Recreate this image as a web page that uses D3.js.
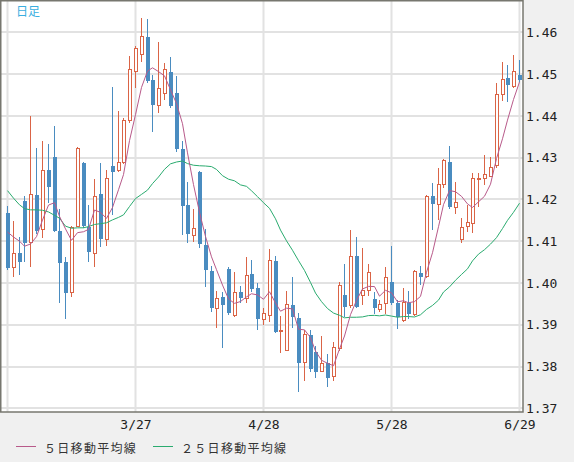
<!DOCTYPE html>
<html>
<head>
<meta charset="utf-8">
<script src="https://cdn.jsdelivr.net/npm/d3@7"></script>
<style>
  body { margin: 0; background: #f0f0f0; }
  svg { display: block; }
  .axis text { font-family: "DejaVu Sans Mono", monospace; font-size: 13px; fill: #222; }
  .lg { font-family: "Noto Sans CJK JP", sans-serif; font-size: 12px; fill: #333; letter-spacing: 1.3px; }
</style>
</head>
<body>
<svg width="574" height="462"></svg>
<script>
// daily candles, oldest first
const open = [
  1.4168, 1.4038, 1.4072, 1.4196, 1.4097, 1.4211, 1.4127, 1.4270, 1.4302, 1.4125,
  1.4051, 1.3978, 1.4136, 1.4287, 1.4133, 1.4071, 1.4213, 1.4103, 1.4280, 1.4270,
  1.4288, 1.4390, 1.4507, 1.4547, 1.4588, 1.4486, 1.4424, 1.4454, 1.4505, 1.4455,
  1.4321, 1.4187, 1.4114, 1.4266, 1.4091, 1.4029, 1.3939, 1.3966, 1.4033, 1.3922,
  1.3978, 1.3963, 1.4022, 1.3987, 1.3913, 1.3922, 1.4053, 1.3886, 1.3838, 1.3947,
  1.3917, 1.3810, 1.3876, 1.3835, 1.3789, 1.3809, 1.3776, 1.3844, 1.3971, 1.3947,
  1.4064, 1.3970, 1.3982, 1.3962, 1.3937, 1.3950, 1.4002, 1.3953, 1.3911, 1.3953,
  1.3925, 1.4025, 1.4015, 1.4208, 1.4188, 1.4235, 1.4290, 1.4181, 1.4105, 1.4136,
  1.4143, 1.4247, 1.4250, 1.4256, 1.4280, 1.4452, 1.4490, 1.4470, 1.4498];
const high = [
  1.4184, 1.4148, 1.4111, 1.4208, 1.4400, 1.4323, 1.4340, 1.4333, 1.4376, 1.4176,
  1.4062, 1.4136, 1.4326, 1.4290, 1.4187, 1.4250, 1.4288, 1.4270, 1.4468, 1.4412,
  1.4395, 1.4543, 1.4567, 1.4634, 1.4632, 1.4498, 1.4577, 1.4527, 1.4541, 1.4495,
  1.4340, 1.4241, 1.4176, 1.4268, 1.4129, 1.4041, 1.3981, 1.3978, 1.4039, 1.4026,
  1.3993, 1.4063, 1.4055, 1.4000, 1.3939, 1.4082, 1.4065, 1.3921, 1.3981, 1.4015,
  1.3927, 1.3887, 1.3887, 1.3850, 1.3873, 1.3830, 1.3859, 1.4002, 1.4045, 1.4127,
  1.4109, 1.4084, 1.4045, 1.3978, 1.3959, 1.4039, 1.4088, 1.3959, 1.3987, 1.3981,
  1.4031, 1.4041, 1.4211, 1.4239, 1.4274, 1.4297, 1.4329, 1.4241, 1.4155, 1.4187,
  1.4264, 1.4264, 1.4306, 1.4301, 1.4478, 1.4530, 1.4522, 1.4546, 1.4534];
const low = [
  1.4031, 1.4014, 1.4019, 1.4051, 1.4039, 1.4117, 1.4107, 1.4191, 1.4123, 1.3951,
  1.3913, 1.3966, 1.4133, 1.4132, 1.4051, 1.4039, 1.4085, 1.4088, 1.4163, 1.4266,
  1.4285, 1.4383, 1.4466, 1.4529, 1.4479, 1.4362, 1.4408, 1.4438, 1.4418, 1.4314,
  1.4115, 1.4095, 1.4097, 1.4083, 1.3990, 1.3931, 1.3893, 1.3845, 1.3923, 1.3918,
  1.3953, 1.3953, 1.3978, 1.3887, 1.3899, 1.3907, 1.3881, 1.3833, 1.3836, 1.3892,
  1.3740, 1.3766, 1.3788, 1.3773, 1.3787, 1.3752, 1.3766, 1.3837, 1.3919, 1.3941,
  1.3940, 1.3947, 1.3969, 1.3925, 1.3931, 1.3926, 1.3947, 1.3889, 1.3906, 1.3913,
  1.3921, 1.3995, 1.4011, 1.4127, 1.4151, 1.4227, 1.4176, 1.4165, 1.4095, 1.4123,
  1.4120, 1.4183, 1.4235, 1.4254, 1.4275, 1.4436, 1.4434, 1.4467, 1.4482];
const close = [
  1.4037, 1.4071, 1.4051, 1.4096, 1.4211, 1.4125, 1.4270, 1.4230, 1.4125, 1.4047,
  1.3975, 1.4133, 1.4322, 1.4136, 1.4075, 1.4207, 1.4105, 1.4250, 1.4266, 1.4288,
  1.4388, 1.4511, 1.4562, 1.4591, 1.4484, 1.4427, 1.4466, 1.4511, 1.4424, 1.4320,
  1.4185, 1.4117, 1.4131, 1.4093, 1.4031, 1.3941, 1.3963, 1.3947, 1.3927, 1.3978,
  1.3963, 1.4018, 1.3985, 1.3913, 1.3926, 1.4053, 1.3883, 1.3887, 1.3949, 1.3918,
  1.3809, 1.3876, 1.3794, 1.3788, 1.3808, 1.3773, 1.3846, 1.3995, 1.3943, 1.4064,
  1.3943, 1.3983, 1.4026, 1.3941, 1.3949, 1.4013, 1.3953, 1.3919, 1.3953, 1.3925,
  1.4027, 1.4015, 1.4207, 1.4188, 1.4236, 1.4292, 1.4183, 1.4193, 1.4133, 1.4145,
  1.4250, 1.4250, 1.4260, 1.4277, 1.4452, 1.4487, 1.4473, 1.4507, 1.4486];

// averages at the left edge depend on days before the window
const ma5Head = [1.4122, 1.4110, 1.4100, 1.4088];
const ma25Head = [
  1.4221, 1.4203, 1.4187, 1.4178, 1.4175, 1.4175, 1.4174, 1.4170, 1.4162, 1.4155,
  1.4136, 1.4131, 1.4132, 1.4132, 1.4135, 1.4140, 1.4142, 1.4144, 1.4151, 1.4157,
  1.4163, 1.4183, 1.4202, 1.4212];

const dateIdx = [0, 22, 44, 66, 88];
const dates = ["", "3/27", "4/28", "5/28", "6/29"];
const yTicks = [1.37, 1.38, 1.39, 1.40, 1.41, 1.42, 1.43, 1.44, 1.45, 1.46];
const legend = ["５日移動平均線", "２５日移動平均線"];

const svg = d3.select("svg");
const L = 1, T = 1, R = 523, B = 412;

const x = d3.scaleLinear().domain([0, close.length - 1]).range([7.5, 519.5]);
const y = d3.scaleLinear().domain([1.37, 1.46]).range([408.3, 32.3]);
const px = i => Math.floor(x(i)) + 0.5;

function movingAvg(n, head) {
  return close.map((c, i) => i < n - 1 ? head[i] : d3.mean(close.slice(i - n + 1, i + 1)));
}
const ma5 = movingAvg(5, ma5Head);
const ma25 = movingAvg(25, ma25Head);

svg.append("rect").attr("x", L).attr("y", T).attr("width", R - L).attr("height", B - T)
  .attr("fill", "#fff");

svg.append("defs").append("clipPath").attr("id", "clip")
  .append("rect").attr("x", L).attr("y", T).attr("width", R - L).attr("height", B - T);

const plot = svg.append("g").attr("clip-path", "url(#clip)");

// grid
plot.selectAll("line.hg").data(yTicks).enter().append("line")
  .attr("x1", L).attr("x2", R)
  .attr("y1", d => Math.round(y(d))).attr("y2", d => Math.round(y(d)))
  .attr("stroke", "#e2e2e2").attr("stroke-width", 2);
plot.selectAll("line.vg").data(dateIdx).enter().append("line")
  .attr("x1", d => px(d)).attr("x2", d => px(d))
  .attr("y1", T).attr("y2", B)
  .attr("stroke", "#e2e2e2").attr("stroke-width", 2);

// candles
const red = "#da6446", blue = "#4a8cc0";
const idx = d3.range(close.length);
const c = plot.selectAll("g.c").data(idx).enter().append("g")
  .attr("shape-rendering", "crispEdges");
c.append("line")
  .attr("x1", px).attr("x2", px)
  .attr("y1", i => y(high[i])).attr("y2", i => y(low[i]))
  .attr("stroke", i => close[i] >= open[i] ? red : blue);
c.append("rect")
  .attr("x", i => close[i] >= open[i] ? px(i) - 1.5 : px(i) - 2)
  .attr("width", i => close[i] >= open[i] ? 3 : 4)
  .attr("y", i => y(Math.max(open[i], close[i])))
  .attr("height", i => Math.max(1, Math.abs(y(open[i]) - y(close[i]))))
  .attr("fill", i => close[i] >= open[i] ? "#fff" : blue)
  .attr("stroke", i => close[i] >= open[i] ? red : "none");

// moving averages
const line = d3.line().x((d, i) => px(i)).y(d => y(d));
plot.append("path").datum(ma25).attr("d", line)
  .attr("fill", "none").attr("stroke", "#2aab6f").attr("stroke-width", 1);
plot.append("path").datum(ma5).attr("d", line)
  .attr("fill", "none").attr("stroke", "#b85a8a").attr("stroke-width", 1);

svg.append("text").attr("x", 16).attr("y", 16)
  .style("font-family", "'Noto Sans CJK JP', sans-serif").style("font-size", "12px")
  .attr("fill", "#3aaee0").text("日足");

svg.append("rect").attr("x", 0.75).attr("y", 0.75).attr("width", R - 0.75).attr("height", B - 0.75)
  .attr("fill", "none").attr("stroke", "#77776f").attr("stroke-width", 1.5);

// axes
const yAxis = svg.append("g").attr("class", "axis").attr("transform", `translate(${R},0)`)
  .call(d3.axisRight(y).tickValues(yTicks).tickSize(0).tickPadding(3).tickFormat(d3.format(".2f")));
yAxis.select(".domain").remove();

const xAxis = svg.append("g").attr("class", "axis").attr("transform", `translate(0,${B})`)
  .call(d3.axisBottom(x).tickValues(dateIdx.slice(1)).tickSize(0).tickPadding(8)
    .tickFormat(d => dates[dateIdx.indexOf(d)]));
xAxis.select(".domain").remove();

// legend
const lg = svg.append("g");
const lgX = [16, 153], lgC = ["#b85a8a", "#2aab6f"];
legend.forEach((t, i) => {
  lg.append("line").attr("x1", lgX[i]).attr("x2", lgX[i] + 20)
    .attr("y1", 446.5).attr("y2", 446.5).attr("stroke", lgC[i]);
  lg.append("text").attr("class", "lg").attr("x", lgX[i] + 28).attr("y", 452.5).text(t);
});
</script>
</body>
</html>
